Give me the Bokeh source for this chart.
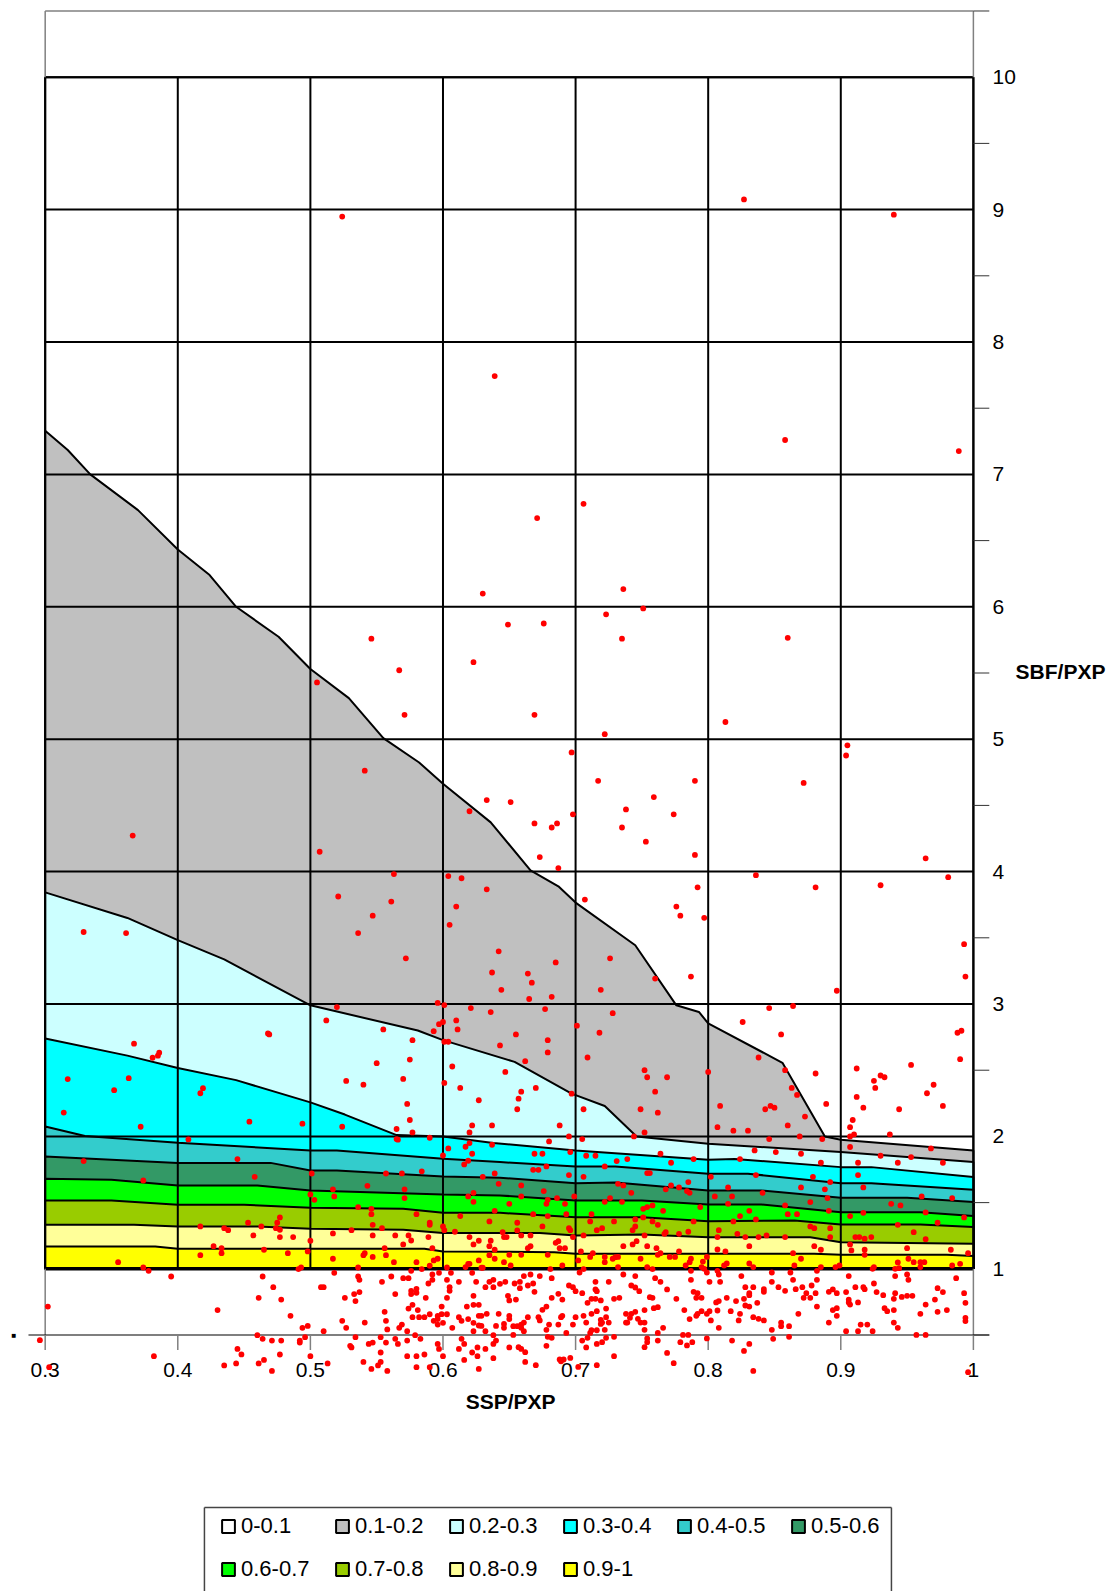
from bokeh.plotting import figure
from bokeh.models import (Range1d, FixedTicker, Label, Legend, LegendItem)
from bokeh.embed import file_html
from bokeh.resources import INLINE

FONT = "Liberation Sans"
x_ticks = [0.3, 0.4, 0.5, 0.6, 0.7, 0.8, 0.9, 1.0]
y_ticks = [1, 2, 3, 4, 5, 6, 7, 8, 9, 10]
y_minor = [0.5, 1.5, 2.5, 3.5, 4.5, 5.5, 6.5, 7.5, 8.5, 9.5, 10.5]
band_labels = ["0-0.1", "0.1-0.2", "0.2-0.3", "0.3-0.4", "0.4-0.5", "0.5-0.6", "0.6-0.7", "0.7-0.8", "0.8-0.9", "0.9-1"]
band_colors = ["#ffffff", "#c0c0c0", "#ccffff", "#00ffff", "#33cccc", "#339966", "#00ff00", "#99cc00", "#ffff99", "#ffff00"]

b1_x = [.3, .317, .334, .37, .4, .424, .444, .476, .5, .529, .555, .582, .6, .636, .666, .687, .7, .745, .776, .793, .8, .856, .888, .9, 1.0]
b1_y = [7.33, 7.184, 7.0, 6.73, 6.433, 6.24, 6.0, 5.774, 5.53, 5.31, 5.008, 4.824, 4.663, 4.372, 4.01, 3.889, 3.766, 3.444, 2.99, 2.94, 2.854, 2.556, 2.0, 1.975, 1.894]
b2_x = [.3, .362, .4, .435, .5, .581, .6, .654, .697, .722, .746, .8, .9, 1.0]
b2_y = [3.843, 3.65, 3.483, 3.337, 2.99, 2.80, 2.727, 2.563, 2.323, 2.23, 2.0, 1.945, 1.882, 1.806]
b3_x = [.3, .362, .4, .444, .5, .526, .565, .6, .638, .7, .8, .82, .9, .923, 1.0]
b3_y = [2.74, 2.61, 2.517, 2.425, 2.257, 2.165, 2.01, 2.0, 1.95, 1.894, 1.824, 1.83, 1.768, 1.768, 1.693]
b4_x = [.3, .33, .4, .5, .52, .6, .643, .7, .73, .8, .83, .9, .923, 1.0]
b4_y = [2.075, 2.003, 1.952, 1.894, 1.894, 1.831, 1.806, 1.773, 1.773, 1.718, 1.718, 1.647, 1.647, 1.597]
b5_x = [.3, .4, .47, .5, .52, .6, .643, .7, .73, .8, .84, .9, .95, 1.0]
b5_y = [1.849, 1.80, 1.80, 1.743, 1.743, 1.698, 1.688, 1.647, 1.652, 1.592, 1.592, 1.537, 1.537, 1.504]
b6_x = [.3, .35, .4, .46, .5, .6, .643, .7, .75, .8, .84, .9, .96, 1.0]
b6_y = [1.68, 1.672, 1.63, 1.63, 1.592, 1.562, 1.554, 1.516, 1.516, 1.486, 1.486, 1.428, 1.428, 1.398]
b7_x = [.3, .35, .4, .45, .5, .57, .6, .643, .7, .75, .8, .865, .9, .96, 1.0]
b7_y = [1.516, 1.516, 1.484, 1.484, 1.461, 1.453, 1.423, 1.423, 1.39, 1.39, 1.36, 1.365, 1.335, 1.335, 1.315]
b8_x = [.3, .367, .4, .46, .5, .57, .6, .643, .673, .7, .75, .8, .877, .9, 1.0]
b8_y = [1.332, 1.332, 1.32, 1.32, 1.302, 1.295, 1.27, 1.27, 1.27, 1.252, 1.26, 1.239, 1.239, 1.2, 1.189]
b9_x = [.3, .383, .4, .5, .586, .6, .684, .7, .8, .88, .9, .98, 1.0]
b9_y = [1.169, 1.169, 1.151, 1.151, 1.151, 1.131, 1.126, 1.113, 1.113, 1.113, 1.106, 1.106, 1.096]
boundaries = [(b1_x, b1_y), (b2_x, b2_y), (b3_x, b3_y), (b4_x, b4_y), (b5_x, b5_y), (b6_x, b6_y), (b7_x, b7_y), (b8_x, b8_y), (b9_x, b9_y)]

points_upper = [(.524,8.947),(.827,9.077),(.94,8.962),(.639,7.743),(.858,7.26),(.989,7.176),(.706,6.778),(.671,6.67),(.63,6.10),(.736,6.134),(.751,5.988),(.723,5.943),(.649,5.866),(.676,5.874),(.735,5.759),(.546,5.759),(.623,5.582),(.567,5.521),(.86,5.766),(.505,5.429),(.571,5.184),(.669,5.184),(.813,5.13),(.722,5.038),(.905,4.954),(.904,4.877),(.697,4.90),(.541,4.762),(.717,4.686),(.79,4.686),(.872,4.67),(.633,4.54),(.651,4.525),(.759,4.563),(.738,4.47),(.698,4.433),(.774,4.433),(.62,4.456),(.669,4.364),(.686,4.364),(.682,4.333),(.735,4.333),(.753,4.226),(.366,4.272),(.79,4.126),(.507,4.15),(.673,4.11),(.964,4.10),(.687,4.027),(.563,3.981),(.604,3.966),(.614,3.95),(.836,3.973),(.981,3.958),(.633,3.866),(.521,3.812),(.792,3.881),(.881,3.881),(.93,3.897),(.707,3.789),(.561,3.774),(.61,3.736),(.547,3.667),(.776,3.736),(.779,3.667),(.797,3.651),(.605,3.598),(.536,3.536),(.329,3.544),(.361,3.536),(.993,3.452),(.642,3.398),(.726,3.345),(.572,3.345),(.685,3.314),(.637,3.238),(.664,3.23),(.76,3.192),(.787,3.207),(.994,3.207),(.667,3.161),(.644,3.107),(.719,3.107),(.897,3.10),(.682,3.054),(.665,3.038),(.596,3.008),(.601,2.992),(.52,2.977),(.621,2.969),(.636,2.939),(.677,2.962),(.728,2.931),(.846,2.969),(.864,2.985)]
points_mid_left = [(.468,2.778),(.469,2.77),(.367,2.70),(.385,2.61),(.381,2.594),(.386,2.632),(.317,2.433),(.314,2.18),(.352,2.349),(.363,2.44),(.372,2.073),(.419,2.364),(.417,2.326),(.454,2.111),(.494,2.096),(.524,2.073)]
points_mid_center = [(.512,2.876),(.555,2.808),(.577,2.727),(.593,2.795),(.597,2.848),(.6,2.864),(.61,2.876),(.611,2.808),(.601,2.715),(.604,2.715),(.643,2.687),(.655,2.77),(.679,2.727),(.679,2.634),(.718,2.783),(.701,2.836),(.709,2.596),(.662,2.568),(.647,2.487),(.607,2.528),(.575,2.58),(.55,2.553),(.57,2.434),(.527,2.419),(.54,2.391),(.601,2.404),(.613,2.366),(.659,2.338),(.67,2.366),(.657,2.285),(.697,2.323),(.627,2.273),(.573,2.245),(.656,2.205),(.706,2.205),(.749,2.205),(.762,2.179),(.76,2.338),(.752,2.5),(.754,2.447),(.769,2.447),(.575,2.124),(.622,2.083),(.637,2.083),(.565,2.056),(.577,2.03),(.62,2.03),(.688,2.083),(.752,2.03),(.744,2.0),(.695,2.0),(.59,1.99),(.565,1.98),(.705,1.98)]
points_mid_right = [(.826,2.864),(.855,2.77),(.988,2.783),(.991,2.798),(.99,2.583),(.838,2.596),(.858,2.5),(.881,2.475),(.912,2.513),(.953,2.54),(.93,2.46),(.933,2.447),(.925,2.42),(.926,2.366),(.97,2.39),(.965,2.326),(.863,2.366),(.867,2.313),(.889,2.245),(.912,2.298),(.917,2.217),(.944,2.205),(.977,2.23),(.8,2.487),(.809,2.23),(.843,2.205),(.847,2.23),(.85,2.217),(.873,2.15),(.86,2.083),(.807,2.07),(.819,2.043),(.83,2.043),(.909,2.124),(.907,2.07),(.907,2.0),(.91,2.015),(.937,2.015),(.869,2.0),(.846,1.98),(.886,1.98)]
points_band_left = [(.566,1.975),(.62,1.95),(.617,1.922),(.622,1.869),(.604,1.909),(.6,1.856),(.619,1.816),(.616,1.788),(.637,1.937),(.639,1.72),(.63,1.695),(.642,1.642),(.408,1.977),(.329,1.814),(.445,1.829),(.458,1.695),(.374,1.667),(.501,1.72),(.557,1.72),(.569,1.72),(.584,1.736),(.517,1.6),(.543,1.627),(.571,1.6),(.5,1.562),(.503,1.521),(.518,1.547),(.571,1.534),(.619,1.547),(.623,1.574),(.623,1.506),(.639,1.438),(.536,1.466),(.546,1.453),(.546,1.413),(.58,1.413),(.613,1.398),(.635,1.358),(.477,1.388),(.475,1.348),(.453,1.348),(.463,1.32),(.474,1.307),(.477,1.295),(.435,1.307),(.438,1.292),(.417,1.32),(.547,1.332),(.554,1.307),(.531,1.292),(.59,1.348),(.59,1.332),(.6,1.32),(.601,1.292),(.609,1.28),(.517,1.267),(.547,1.252),(.564,1.252),(.574,1.252),(.576,1.214),(.589,1.24),(.62,1.24),(.627,1.212),(.636,1.212),(.457,1.252),(.477,1.24),(.487,1.24),(.5,1.212),(.427,1.171),(.433,1.156),(.465,1.144),(.433,1.118),(.417,1.103),(.483,1.118),(.498,1.131),(.556,1.156),(.57,1.184),(.592,1.156),(.623,1.184),(.635,1.171),(.639,1.144),(.635,1.103),(.627,1.063),(.639,1.076),(.557,1.103),(.54,1.103),(.541,1.118),(.547,1.09),(.517,1.076),(.563,1.05),(.58,1.05),(.596,1.076),(.593,1.063),(.59,1.023),(.619,1.038),(.62,1.038),(.617,1.013),(.629,1.008),(.63,1.008),(.355,1.05),(.374,1.01),(.536,1.01),(.493,1.01),(.491,.998),(.603,1.01)]
points_band_right = [(.68,1.962),(.696,1.882),(.669,1.869),(.675,1.869),(.708,1.854),(.715,1.854),(.731,1.814),(.739,1.829),(.764,1.869),(.772,1.801),(.789,1.829),(.835,1.894),(.851,1.882),(.87,1.869),(.824,1.829),(.885,1.801),(.907,1.92),(.913,1.801),(.93,1.854),(.943,1.801),(.953,1.844),(.968,1.909),(.977,1.801),(.668,1.748),(.672,1.748),(.678,1.773),(.695,1.708),(.706,1.695),(.722,1.773),(.754,1.723),(.756,1.723),(.802,1.695),(.836,1.708),(.879,1.695),(.913,1.708),(.785,1.655),(.732,1.642),(.736,1.63),(.772,1.63),(.778,1.615),(.768,1.6),(.784,1.587),(.786,1.574),(.815,1.615),(.87,1.615),(.888,1.6),(.892,1.655),(.917,1.615),(.659,1.63),(.676,1.587),(.659,1.547),(.742,1.574),(.805,1.547),(.818,1.547),(.841,1.574),(.89,1.534),(.961,1.547),(.984,1.534),(.699,1.547),(.686,1.534),(.726,1.534),(.679,1.521),(.722,1.506),(.678,1.491),(.692,1.491),(.65,1.491),(.735,1.506),(.815,1.491),(.877,1.504),(.858,1.479),(.938,1.491),(.945,1.479),(.758,1.479),(.754,1.466),(.751,1.453),(.766,1.438),(.794,1.466),(.831,1.438),(.86,1.413),(.867,1.413),(.891,1.438),(.917,1.423),(.964,1.426),(.668,1.413),(.679,1.398),(.693,1.413),(.712,1.413),(.907,1.398),(.993,1.388),(.824,1.398),(.751,1.388),(.745,1.373),(.711,1.358),(.729,1.358),(.758,1.358),(.762,1.332),(.789,1.358),(.819,1.358),(.836,1.373),(.656,1.348),(.675,1.32),(.745,1.32),(.743,1.292),(.72,1.307),(.716,1.292),(.695,1.307),(.696,1.292),(.808,1.292),(.877,1.32),(.88,1.307),(.892,1.307),(.943,1.332),(.973,1.348),(.955,1.277),(.656,1.29),(.659,1.252),(.666,1.252),(.768,1.277),(.767,1.264),(.778,1.264),(.785,1.28),(.752,1.252),(.706,1.252),(.822,1.264),(.807,1.24),(.828,1.24),(.838,1.24),(.844,1.252),(.858,1.24),(.892,1.24),(.911,1.24),(.914,1.24),(.918,1.227),(.923,1.24),(.964,1.224),(.698,1.24),(.646,1.24),(.648,1.24),(.645,1.277),(.687,1.209),(.685,1.196),(.666,1.171),(.664,1.156),(.688,1.156),(.692,1.156),(.736,1.171),(.743,1.184),(.746,1.209),(.754,1.171),(.761,1.156),(.831,1.171),(.88,1.171),(.907,1.184),(.908,1.139),(.918,1.144),(.95,1.156),(.983,1.144),(.807,1.146),(.813,1.131),(.864,1.118),(.885,1.144),(.918,1.106),(.951,1.076),(.996,1.118),(.87,1.076),(.764,1.118),(.762,1.106),(.778,1.131),(.749,1.076),(.771,1.09),(.775,1.09),(.787,1.076),(.786,1.05),(.799,1.09),(.796,1.055),(.722,1.09),(.732,1.09),(.728,1.076),(.73,1.088),(.722,1.05),(.711,1.09),(.713,1.118),(.704,1.131),(.702,1.063),(.659,1.106),(.65,1.106),(.679,1.106),(.646,1.05),(.651,1.025),(.69,1.025),(.783,1.025),(.732,1.013),(.754,1.013),(.795,1.013),(.797,1.0),(.812,1.025),(.814,1.04),(.831,1.04),(.834,1.013),(.865,1.025),(.885,1.013),(.896,1.013),(.899,1.025),(.925,1.013),(.924,1.0),(.943,1.048),(.941,1.0),(.944,1.005),(.955,1.05),(.96,1.05),(.963,1.05),(.96,1.013),(.984,1.025),(.99,1.038)]
points_low_left = [(.378,.985),(.395,.942),(.464,.942),(.472,.861),(.461,.781),(.478,.768),(.485,.645),(.43,.688),(.302,.715),(.494,.554),(.498,.569),(.51,.529),(.518,.97),(.536,.942),(.537,.917),(.554,.902),(.561,.942),(.57,.929),(.574,.929),(.576,.985),(.584,.997),(.589,.889),(.592,.957),(.592,.917),(.597,.97),(.606,.97),(.603,.917),(.605,.861),(.605,.834),(.603,.781),(.612,.902),(.622,.97),(.625,.902),(.632,.861),(.635,.902),(.638,.917),(.638,.861),(.643,.887),(.623,.796),(.508,.861),(.51,.861),(.526,.781),(.533,.809),(.537,.824),(.534,.756),(.564,.809),(.576,.834),(.58,.849),(.576,.809),(.58,.819),(.587,.781),(.577,.728),(.574,.7),(.581,.688),(.618,.715),(.623,.728),(.627,.728),(.599,.715),(.59,.657),(.596,.645),(.599,.657),(.603,.657),(.556,.675),(.557,.607),(.577,.635),(.582,.635),(.586,.635),(.593,.607),(.596,.62),(.596,.579),(.6,.592),(.612,.635),(.614,.607),(.619,.62),(.627,.645),(.629,.645),(.633,.66),(.642,.66),(.623,.592),(.627,.572),(.629,.569),(.64,.569),(.632,.529),(.623,.529),(.607,.554),(.524,.607),(.541,.594),(.527,.554),(.567,.554),(.569,.579),(.558,.542),(.573,.529),(.534,.484),(.553,.484),(.579,.499),(.583,.471),(.564,.471),(.557,.443),(.566,.433),(.573,.458),(.596,.433),(.597,.395),(.547,.443),(.544,.433),(.46,.499),(.464,.471),(.471,.458),(.478,.458),(.492,.458),(.492,.443),(.496,.484),(.445,.395),(.448,.353),(.477,.353),(.465,.312),(.461,.285),(.444,.285),(.435,.27),(.471,.229),(.382,.34),(.303,.257),(.296,.461),(.5,.34),(.513,.285),(.53,.418),(.531,.406),(.553,.368),(.54,.297),(.553,.297),(.551,.27),(.546,.244),(.558,.229),(.573,.34),(.58,.34),(.586,.353),(.58,.257),(.59,.257),(.6,.34),(.612,.395),(.614,.471),(.616,.433),(.616,.312),(.622,.368),(.626,.406),(.626,.34),(.632,.395),(.638,.499),(.638,.433),(.638,.325),(.627,.244),(.64,.458)]
points_low_right = [(.681,.997),(.706,.997),(.703,.972),(.758,.997),(.807,.985),(.808,.957),(.787,.985),(.799,.972),(.736,.957),(.745,.945),(.76,.929),(.764,.902),(.787,.917),(.801,.902),(.809,.902),(.825,.945),(.848,.972),(.862,.972),(.864,.917),(.848,.902),(.882,.917),(.882,.985),(.906,.945),(.925,.889),(.941,.945),(.95,.957),(.951,.917),(.987,.929),(.647,.902),(.654,.889),(.658,.902),(.661,.945),(.666,.957),(.673,.945),(.682,.929),(.668,.889),(.664,.874),(.658,.854),(.669,.826),(.695,.874),(.698,.861),(.7,.831),(.705,.816),(.715,.902),(.725,.902),(.715,.844),(.716,.831),(.742,.874),(.745,.859),(.748,.831),(.769,.844),(.776,.773),(.756,.786),(.758,.781),(.789,.826),(.792,.816),(.795,.781),(.791,.781),(.828,.861),(.834,.861),(.831,.816),(.831,.801),(.842,.846),(.842,.826),(.853,.861),(.858,.834),(.866,.846),(.871,.861),(.878,.874),(.874,.816),(.872,.781),(.877,.781),(.881,.816),(.891,.826),(.894,.844),(.897,.816),(.904,.824),(.911,.861),(.917,.861),(.918,.846),(.927,.824),(.932,.801),(.941,.816),(.946,.788),(.95,.796),(.954,.796),(.94,.773),(.973,.854),(.977,.824),(.971,.768),(.993,.816),(.994,.743),(.964,.73),(.96,.66),(.973,.675),(.98,.688),(.994,.63),(.994,.605),(.906,.768),(.906,.746),(.907,.73),(.913,.746),(.933,.703),(.935,.68),(.94,.688),(.94,.594),(.943,.554),(.897,.703),(.894,.688),(.897,.645),(.891,.594),(.904,.529),(.913,.529),(.915,.579),(.92,.579),(.924,.529),(.957,.501),(.964,.501),(.882,.715),(.868,.66),(.837,.743),(.828,.723),(.831,.715),(.827,.773),(.821,.756),(.814,.781),(.817,.68),(.807,.685),(.824,.66),(.823,.61),(.834,.635),(.838,.622),(.842,.61),(.855,.594),(.855,.567),(.861,.567),(.848,.539),(.849,.471),(.861,.486),(.818,.458),(.831,.433),(.827,.38),(.834,.229),(.996,.219),(.806,.746),(.808,.756),(.801,.68),(.799,.66),(.795,.68),(.792,.66),(.791,.645),(.786,.62),(.782,.688),(.802,.61),(.808,.554),(.762,.71),(.759,.703),(.752,.688),(.745,.675),(.742,.66),(.738,.66),(.741,.63),(.747,.622),(.749,.594),(.752,.594),(.738,.594),(.739,.594),(.752,.539),(.766,.554),(.762,.516),(.754,.474),(.754,.446),(.762,.458),(.752,.408),(.781,.501),(.785,.501),(.788,.446),(.779,.446),(.784,.421),(.799,.474),(.769,.365),(.774,.287),(.729,.773),(.733,.781),(.723,.7),(.716,.68),(.712,.66),(.715,.773),(.709,.743),(.712,.773),(.719,.761),(.723,.635),(.719,.615),(.72,.594),(.719,.584),(.725,.594),(.706,.645),(.708,.594),(.712,.536),(.711,.516),(.716,.536),(.722,.539),(.723,.479),(.716,.433),(.72,.446),(.729,.486),(.709,.479),(.708,.406),(.705,.458),(.729,.34),(.702,.259),(.716,.272),(.696,.327),(.691,.315),(.688,.315),(.689,.302),(.678,.418),(.682,.479),(.679,.486),(.662,.37),(.662,.297),(.67,.272),(.659,.395),(.657,.408),(.65,.406),(.653,.501),(.659,.554),(.661,.529),(.656,.567),(.653,.567),(.646,.584),(.646,.554),(.661,.594),(.659,.579),(.65,.645),(.65,.62),(.664,.635),(.672,.635),(.673,.61),(.68,.579),(.678,.539),(.687,.579),(.693,.516),(.698,.579),(.7,.635),(.689,.635),(.69,.645),(.682,.781),(.687,.811),(.69,.768),(.675,.69),(.678,.715),(.65,.761),(.655,.768),(.649,.796)]
all_points = points_upper + points_mid_left + points_mid_center + points_mid_right + points_band_left + points_band_right + points_low_left + points_low_right

X0, X1, Y0, Y1, YL, YT = 0.3, 1.0, 1, 10, 0.5, 10.5
YB = -1.4372

p = figure(width=1112, height=1591, output_backend="svg", toolbar_location=None,
           x_range=Range1d(0.2663, 1.10491), y_range=Range1d(YB, 10.5793),
           y_axis_location="right", min_border_left=0, min_border_top=0,
           min_border_right=0, min_border_bottom=0, outline_line_color=None,
           background_fill_color="white")
p.grid.visible = False

# Axes
xa = p.xaxis[0]
xa.ticker = FixedTicker(ticks=x_ticks)
xa.major_label_overrides = {1.0: "1"}
xa.axis_line_color = None
xa.major_tick_line_color = None
xa.minor_tick_line_color = None
xa.major_label_standoff = -235
xa.major_label_text_font = FONT
xa.major_label_text_font_size = "21px"
xa.major_label_text_color = "#000000"

ya = p.yaxis[0]
ya.ticker = FixedTicker(ticks=y_ticks, minor_ticks=y_minor)
ya.axis_line_color = None
ya.major_tick_line_color = None
ya.minor_tick_line_color = None
ya.major_tick_in = 0
ya.major_tick_out = 0
ya.minor_tick_in = 0
ya.minor_tick_out = 0
ya.major_label_standoff = -120
ya.major_label_text_font = FONT
ya.major_label_text_font_size = "21px"
ya.major_label_text_color = "#000000"

# Bands
items = []
r = p.patch([X0, X1, X1, X0], [Y1, Y1, Y0, Y0], fill_color=band_colors[0], line_color="black", line_width=2)
items.append(LegendItem(label=band_labels[0], renderers=[r]))
for (bx, by), lab, col in zip(boundaries, band_labels[1:], band_colors[1:]):
    r = p.patch(list(bx) + [X1, X0], list(by) + [Y0, Y0], fill_color=col, line_color="black", line_width=2)
    items.append(LegendItem(label=lab, renderers=[r]))

# Grid
p.segment(x_ticks, [Y0] * len(x_ticks), x_ticks, [Y1] * len(x_ticks), line_color="black", line_width=2)
p.segment([X0] * len(y_ticks), y_ticks, [X1] * len(y_ticks), y_ticks, line_color="black", line_width=2)
p.segment([X0], [1], [X1], [1], line_color="black", line_width=3.5)

# Frame outside grid area
p.segment([X0, X1, X0, X1, X0], [YL, YL, Y1, Y1, YT], [X0, X1, X0, X1, X1], [Y0, Y0, YT, YT, YT],
          line_color="#808080", line_width=1.5)
p.segment([0.2874], [YL], [1.012], [YL], line_color="black", line_width=1.2)
p.segment(x_ticks, [YL] * len(x_ticks), x_ticks, [0.387] * len(x_ticks), line_color="#808080", line_width=1.5)
p.segment([X1] * len(y_minor), y_minor, [1.012] * len(y_minor), y_minor, line_color="#333333", line_width=1)

# Legend box
p.segment([0.4201, 0.4201, 0.9382], [-0.803, YB, YB], [0.9382, 0.4201, 0.9382], [-0.803, -0.803, -0.803],
          line_color="#444444", line_width=1.5)

# Points
px = [a for a, b in all_points]
py = [b for a, b in all_points]
p.scatter(px, py, marker="circle", size=5.8, fill_color="#ff0000", line_color=None, level="overlay")

p.add_layout(Label(x=0.2765, y=0.5, text="■", text_font=FONT, text_font_size="8px",
                   text_align="center", text_baseline="middle", text_color="#000000"))
p.add_layout(Label(x=0.651, y=0.0, text="SSP/PXP", text_font=FONT, text_font_size="21px", text_font_style="bold",
                   text_align="center", text_baseline="middle", text_color="#000000"))
p.add_layout(Label(x=1.0318, y=5.511, text="SBF/PXP", text_font=FONT, text_font_size="21px", text_font_style="bold",
                   text_align="left", text_baseline="middle", text_color="#000000"))

legend = Legend(items=items, orientation="horizontal", ncols=6, location=(220, 9), margin=0, padding=0, spacing=17,
                glyph_width=16, glyph_height=16, label_standoff=5, label_height=10, label_width=76,
                label_text_font=FONT, label_text_font_size="22px", label_text_color="#000000",
                border_line_color=None, background_fill_alpha=0.0,
                click_policy="none")
p.add_layout(legend, "center")

open("out.html", "w").write(file_html(p, INLINE))
